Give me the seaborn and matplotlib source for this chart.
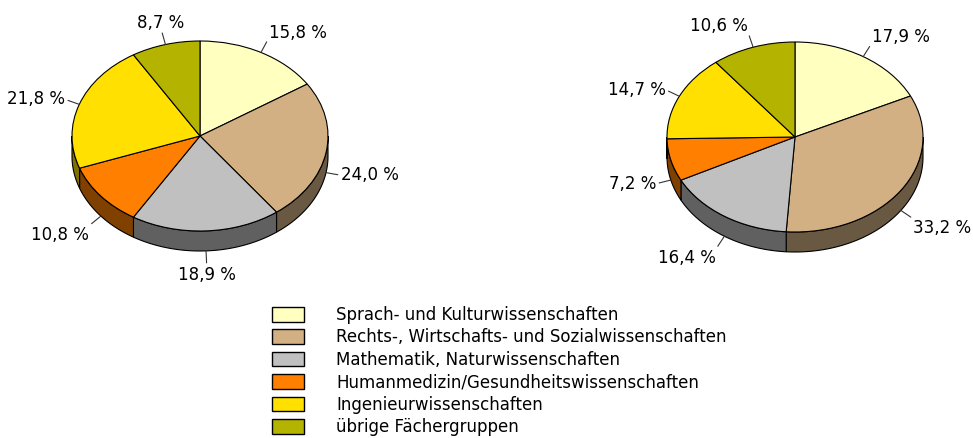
import matplotlib
matplotlib.use("Agg")
import matplotlib.pyplot as plt
from matplotlib.patches import Patch, Polygon
import numpy as np
import seaborn as sns

# data: share of students per subject group (%), two pies
categories = ["Sprach- und Kulturwissenschaften",
              "Rechts-, Wirtschafts- und Sozialwissenschaften",
              "Mathematik, Naturwissenschaften",
              "Humanmedizin/Gesundheitswissenschaften",
              "Ingenieurwissenschaften",
              "übrige Fächergruppen"]
share_left = [15.8, 24.0, 18.9, 10.8, 21.8, 8.7]
share_right = [17.9, 33.2, 16.4, 7.2, 14.7, 10.6]

top_colors = ["#FFFFC0", "#D2B084", "#C0C0C0", "#FF8000", "#FFE000", "#B4B400"]
side_colors = ["#808060", "#695842", "#606060", "#804000", "#807000", "#5A5A00"]

sns.set_theme(style="white")
plt.rcParams['font.family'] = ['DejaVu Sans']

W, H = 973, 438
fig = plt.figure(figsize=(W / 100, H / 100), dpi=100)

RX, RY, DEPTH = 128, 95, 20   # ellipse radii and wall height in px
FS = 12


def draw_pie(cx, cy, values):
    w, h = 400, 300
    ax = fig.add_axes([(cx - w / 2) / W, (H - cy - h / 2) / H, w / W, h / H])
    ax.pie(values, colors=top_colors, startangle=90, counterclock=False,
           wedgeprops=dict(edgecolor='black', linewidth=0.8))
    ax.set_aspect('auto')
    ax.set_xlim(-w / 2 / RX, w / 2 / RX)
    ax.set_ylim(-h / 2 / RY, h / 2 / RY)
    ax.axis('off')

    d = DEPTH / RY
    cum = np.concatenate([[0], np.cumsum(values)]) / np.sum(values) * 360
    # side walls (front half only)
    for i in range(len(values)):
        t_hi = 90 - cum[i]
        t_lo = 90 - cum[i + 1]
        a, b = max(t_lo, -180), min(t_hi, 0)
        if b > a:
            th = np.radians(np.linspace(a, b, 80))
            x, y = np.cos(th), np.sin(th)
            pts = np.column_stack([np.r_[x, x[::-1]], np.r_[y, y[::-1] - d]])
            ax.add_patch(Polygon(pts, closed=True, fc=side_colors[i], ec='black',
                                 lw=0.8, zorder=0.5))

    # labels with short leader lines
    mid = np.radians(90 - (cum[:-1] + cum[1:]) / 2)
    L, gap = 12, 3
    for m, v in zip(mid, values):
        c, s = np.cos(m), np.sin(m)
        x0, y0 = c, s - (d if s < 0 else 0)
        x1, y1 = x0 + L * c / RX, y0 + L * s / RY
        ax.plot([x0, x1], [y0, y1], color='#333333', lw=0.8, clip_on=False)
        ha = 'left' if c > 0.3 else ('right' if c < -0.3 else 'center')
        va = 'baseline' if s > 0.5 else ('top' if s < -0.5 else 'center')
        g = gap + (2 if va == 'baseline' else 0)
        ax.text(x1 + g * c / RX, y1 + g * s / RY, f"{v:.1f} %".replace('.', ','),
                ha=ha, va=va, fontsize=FS, color='black')
    return ax


draw_pie(200, 136, share_left)
draw_pie(795, 137, share_right)

handles = [Patch(facecolor=c, edgecolor='black', linewidth=1) for c in top_colors]
fpx = FS * 100 / 72
fig.legend(handles, categories, loc='upper left',
           bbox_to_anchor=(272 / W, 1 - 306 / H), frameon=False, fontsize=FS,
           handlelength=32 / fpx, handleheight=16 / fpx, handletextpad=32 / fpx,
           labelspacing=0.265, borderpad=0, borderaxespad=0, labelcolor='black')

fig.savefig("out.png", dpi=100)
